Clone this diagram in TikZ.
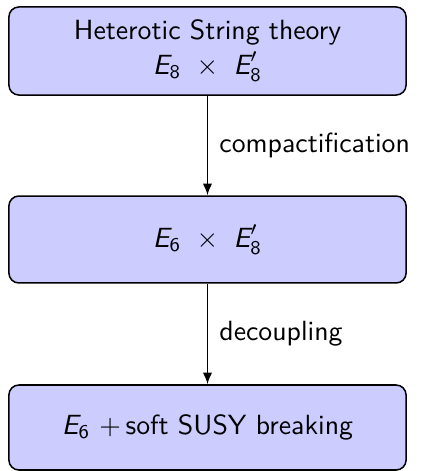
\documentclass[tikz,border=0pt]{standalone}
\usepackage{amsmath}
\usetikzlibrary{arrows.meta}
\newcommand{\grp}[1]{\textit{E}_{\textsf{#1}}}
\newcommand{\grpp}[1]{\textit{E}'_{\textsf{#1}}}
\begin{document}
\begin{tikzpicture}[x=0.36pt,y=-0.36pt,
  box/.style={draw=black, fill=blue!20, rounded corners=3.6pt, line width=0.55pt,
    minimum width=143pt, align=center, inner sep=0pt, font=\sffamily},
  flow/.style={-{Latex[length=4.2pt,width=3.4pt]}, line width=0.6pt},
  lbl/.style={font=\sffamily, anchor=west, inner sep=0pt}]
\useasboundingbox (0,0) rectangle (420,471);
\node[box, minimum height=31.7pt] (a) at (207.5,51) {Heterotic String theory\\[0.6pt]$\grp{8}\ \times\ \grpp{8}$};
\node[box, minimum height=31.3pt] (b) at (207.5,239.5) {$\grp{6}\ \times\ \grpp{8}$};
\node[box, minimum height=30.6pt] (c) at (207.5,427.5) {$\grp{6}\ +\,$soft SUSY breaking};
\draw[flow] (a) -- (b) node[lbl, midway, xshift=4pt] {compactification};
\draw[flow] (b) -- (c) node[lbl, midway, xshift=4pt] {decoupling};
\end{tikzpicture}
\end{document}
